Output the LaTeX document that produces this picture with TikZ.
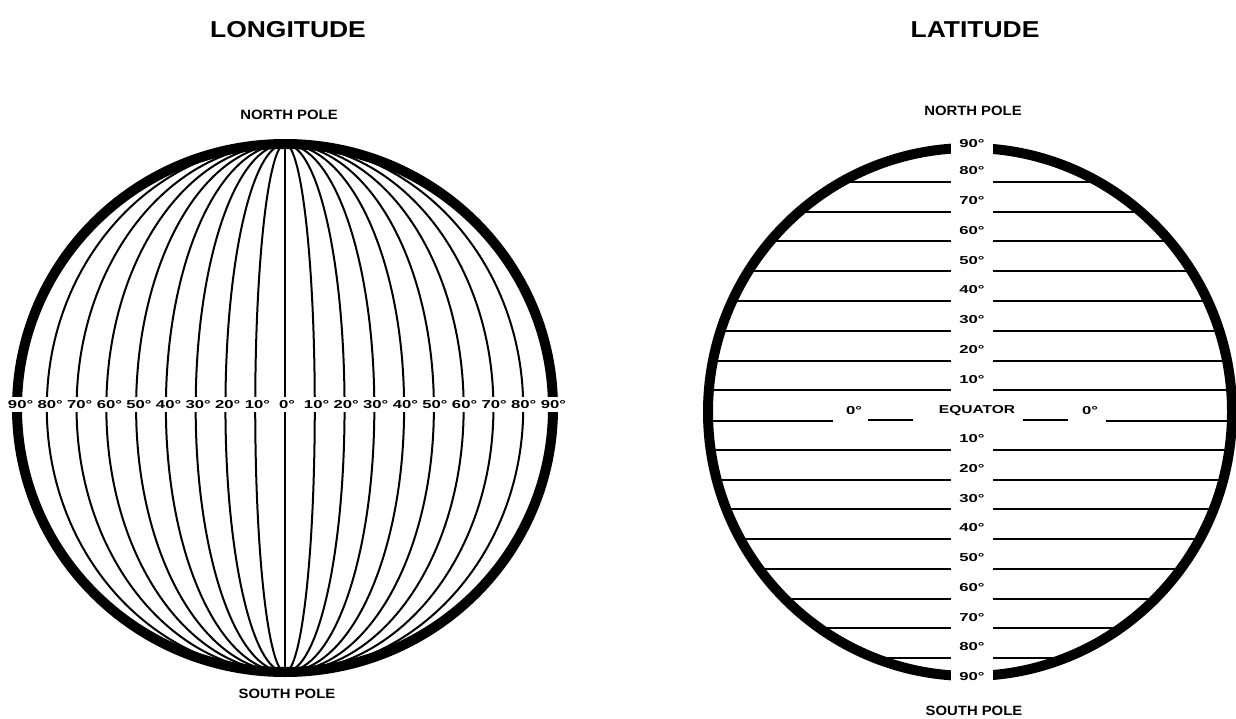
\documentclass[tikz,border=0pt]{standalone}
\usepackage{fontspec}
\setmainfont{Liberation Sans}
\usepackage{graphicx}
\newcommand{\xstr}[2]{\scalebox{#1}[1]{#2}}
\tikzset{
  titlelbl/.style={font=\fontsize{23}{23}\selectfont\bfseries, inner sep=0pt},
  polelbl/.style={font=\fontsize{13.5}{13.5}\selectfont\bfseries, inner sep=0pt},
  deglbl/.style={font=\fontsize{11.5}{11.5}\selectfont\bfseries, inner sep=0pt},
  rim/.style={line width=10pt},
  gridline/.style={line width=2pt},
  blank/.style={fill=white, draw=none}
}
\begin{document}
\begin{tikzpicture}[x=1pt,y=-1pt]
\useasboundingbox (0,0) rectangle (1236,719);
% ---------- titles ----------
\node[titlelbl] (tlon) at (288,30) {\xstr{1.15}{LONGITUDE}};
\node[titlelbl] (tlat) at (975,30) {\xstr{1.15}{LATITUDE}};
% ---------- LONGITUDE globe ----------
\draw[gridline] (285,144) -- (285,672);
\foreach \k in {1,...,8}{
  \pgfmathsetmacro\rx{268*\k/9}
  \draw[gridline] (285,408) ellipse [x radius=\rx pt, y radius=264pt];
}
\draw[rim] (285,408) ellipse [x radius=268pt, y radius=264pt];
\fill[blank] (0,397) rectangle (575,412);
\foreach \k in {-9,...,9}{
  \pgfmathtruncatemacro\d{abs(\k)*10}
  \node[deglbl] (lon\k) at ({287+29.6*\k},404.5) {\xstr{1.45}{\d°}};
}
\node[polelbl] (lnp) at (289,115) {\xstr{1.1}{NORTH POLE}};
\node[polelbl] (lsp) at (287,694) {\xstr{1.1}{SOUTH POLE}};
% ---------- LATITUDE globe ----------
\foreach \k in {-8,...,-1,1,2,...,8}{
  \pgfmathsetmacro\yy{420+29.75*\k}
  \pgfmathsetmacro\hw{262*sqrt(1-((\yy-412)/264)^2)}
  \draw[gridline] ({970-\hw},\yy) -- (951,\yy);
  \draw[gridline] (993,\yy) -- ({970+\hw},\yy);
  \pgfmathtruncatemacro\d{abs(\k)*10}
  \node[deglbl] (lat\k) at (972,{\yy-11}) {\xstr{1.45}{\d°}};
}
% equator
\pgfmathsetmacro\hwe{262*sqrt(1-((421-412)/264)^2)}
\draw[gridline] ({970-\hwe},421) -- (833,421);
\draw[gridline] (868,420) -- (913,420);
\draw[gridline] (1023,420) -- (1068,420);
\draw[gridline] (1106,421) -- ({970+\hwe},421);
\draw[rim] (970,412) ellipse [x radius=262pt, y radius=264pt];
\fill[blank] (951,130) rectangle (993,165);
\fill[blank] (951,662) rectangle (993,692);
\node[deglbl] (latnp) at (972,144) {\xstr{1.45}{90°}};
\node[deglbl] (latsp) at (972,677) {\xstr{1.45}{90°}};
\node[deglbl] (eq0a) at (854,411) {\xstr{1.45}{0°}};
\node[deglbl] (eqlbl) at (977,411) {\xstr{1.35}{EQUATOR}};
\node[deglbl] (eq0b) at (1090,411) {\xstr{1.45}{0°}};
\node[polelbl] (rnp) at (973,111) {\xstr{1.1}{NORTH POLE}};
\node[polelbl] (rsp) at (974,711) {\xstr{1.1}{SOUTH POLE}};
\end{tikzpicture}
\end{document}
